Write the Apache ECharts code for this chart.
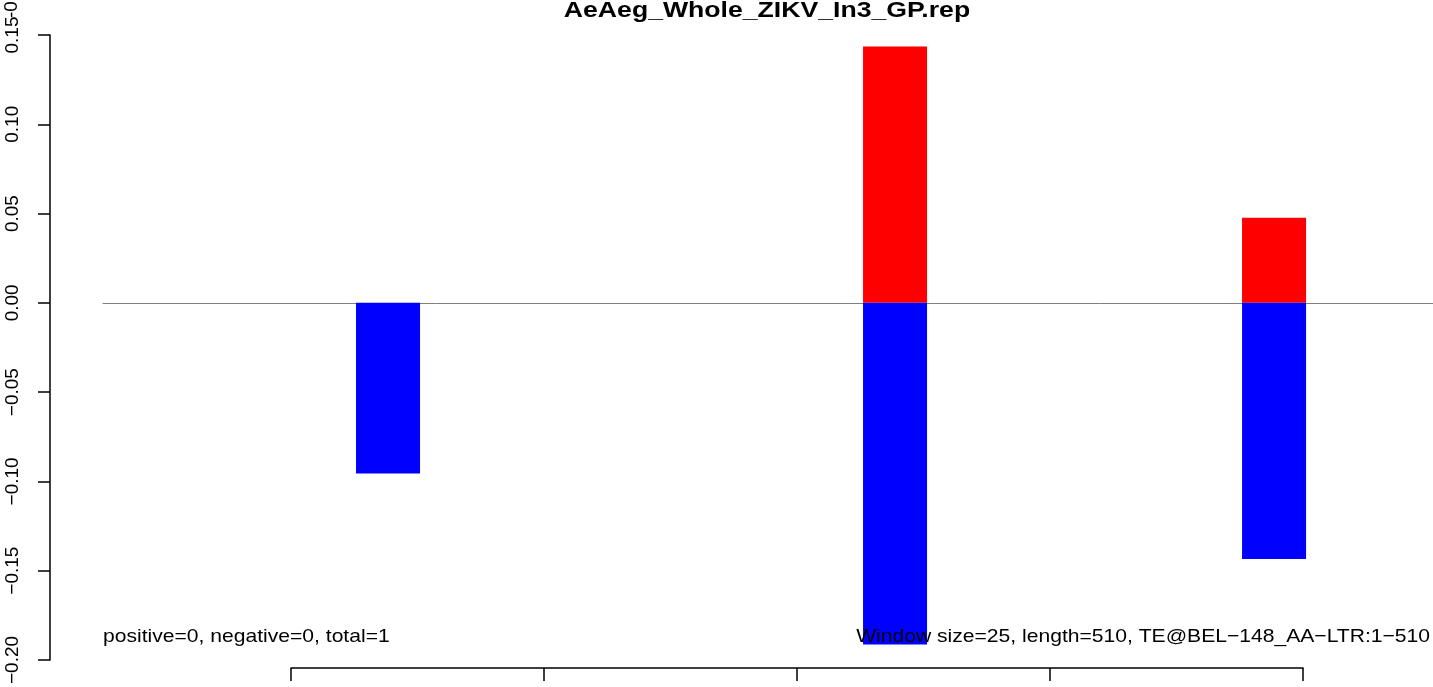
<!DOCTYPE html>
<html>
<head>
<meta charset="utf-8">
<script src="https://cdn.jsdelivr.net/npm/echarts@6/dist/echarts.min.js"></script>
<style>
html,body{margin:0;padding:0;background:#fff;}
#chart{width:1433px;height:687px;}
</style>
</head>
<body>
<div id="chart"></div>
<script>
// ---- data ----
const titleText = 'AeAeg_Whole_ZIKV_In3_GP.rep';
const windowStart = [25.7, 226.1, 375.9];
const windowEnd = [51.0, 251.4, 401.2];
const positiveValues = [0, 0.1435, 0.0476];
const negativeValues = [-0.0956, -0.1913, -0.1434];
const yTicks = [-0.20, -0.15, -0.10, -0.05, 0.00, 0.05, 0.10, 0.15];
const xTicks = [0, 100, 200, 300, 400];
const leftNote = 'positive=0, negative=0, total=1';
const rightNote = 'Window size=25, length=510, TE@BEL\u2212148_AA\u2212LTR:1\u2212510';

const FONT = '"Liberation Sans", Arial, Helvetica, sans-serif';
const chart = echarts.init(document.getElementById('chart'));

function barRenderer(color) {
  return function (params, api) {
    const s = api.value(0), e = api.value(1), v = api.value(2);
    const p1 = api.coord([s, v]);
    const p2 = api.coord([e, 0]);
    return {
      type: 'rect',
      shape: {
        x: p1[0],
        y: Math.min(p1[1], p2[1]),
        width: p2[0] - p1[0],
        height: Math.abs(p2[1] - p1[1])
      },
      style: { fill: color }
    };
  };
}

const posData = windowStart.map((s, i) => [s, windowEnd[i], positiveValues[i]]);
const negData = windowStart.map((s, i) => [s, windowEnd[i], negativeValues[i]]);

function fmt(v) {
  return v.toFixed(2).replace('-', '\u2212');
}

chart.setOption({
  animation: false,
  backgroundColor: '#ffffff',
  grid: [
    { left: 103, right: 0, top: 35, bottom: 27 },
    { left: 291, right: 130, top: 35, bottom: 19 }
  ],
  xAxis: [
    {
      type: 'value', gridIndex: 0,
      min: -74.31, max: 451.38,
      splitLine: { show: false },
      axisTick: { show: false },
      axisLabel: { show: false },
      axisLine: { show: true, onZero: true, lineStyle: { color: '#808080', width: 1 } }
    },
    {
      type: 'value', gridIndex: 1,
      min: xTicks[0], max: xTicks[xTicks.length - 1], interval: 100,
      position: 'bottom',
      splitLine: { show: false },
      axisLabel: { show: false },
      axisTick: { show: true, length: 13, lineStyle: { color: '#000', width: 1.5 } },
      axisLine: { show: true, onZero: false, lineStyle: { color: '#000', width: 1.5 } }
    }
  ],
  yAxis: [
    {
      type: 'value', gridIndex: 0,
      min: yTicks[0], max: yTicks[yTicks.length - 1], interval: 0.05,
      position: 'left',
      offset: 53,
      splitLine: { show: false },
      axisLine: { show: true, onZero: false, lineStyle: { color: '#000', width: 1.5 } },
      axisTick: { show: true, length: 12, lineStyle: { color: '#000', width: 1.5 } },
      axisLabel: {
        show: true,
        rotate: 90,
        margin: 28,
        align: 'center',
        verticalAlign: 'bottom',
        fontFamily: FONT, fontSize: 19, color: '#000',
        formatter: fmt
      }
    },
    {
      type: 'value', gridIndex: 1, min: 0, max: 1, show: false
    }
  ],
  graphic: [
    {
      type: 'text', x: 767, y: 11, z: 100, scaleX: 1.21,
      style: { text: titleText, font: 'bold 22px ' + FONT, fill: '#000', textAlign: 'center', textVerticalAlign: 'middle' }
    },
    {
      type: 'text', x: 103, y: 637, z: 100, scaleX: 1.11,
      style: { text: leftNote, font: '19px ' + FONT, fill: '#000', textAlign: 'left', textVerticalAlign: 'middle' }
    },
    {
      type: 'text', x: 1430, y: 637, z: 100, scaleX: 1.11,
      style: { text: rightNote, font: '19px ' + FONT, fill: '#000', textAlign: 'right', textVerticalAlign: 'middle' }
    },
    {
      type: 'text', x: 12, y: 18, rotation: Math.PI / 2, z: 100,
      style: { text: '-0.20', font: '19px ' + FONT, fill: '#000', textAlign: 'left', textVerticalAlign: 'middle' }
    }
  ],
  series: [
    {
      type: 'custom', name: 'positive', xAxisIndex: 0, yAxisIndex: 0,
      renderItem: barRenderer('#ff0000'),
      encode: { x: [0, 1], y: 2 },
      data: posData
    },
    {
      type: 'custom', name: 'negative', xAxisIndex: 0, yAxisIndex: 0,
      renderItem: barRenderer('#0000ff'),
      encode: { x: [0, 1], y: 2 },
      data: negData
    }
  ]
});
</script>
</body>
</html>
